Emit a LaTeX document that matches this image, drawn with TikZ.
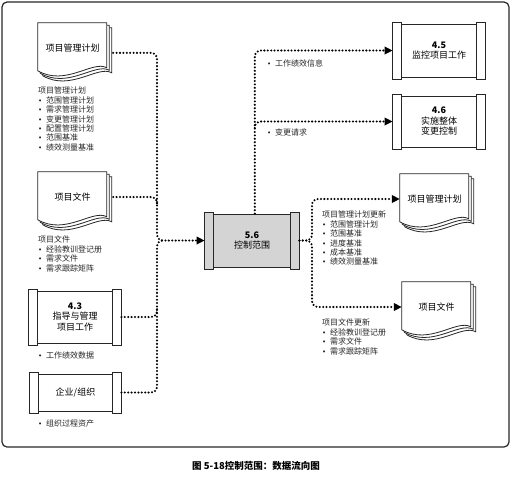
\documentclass[tikz,border=0pt]{standalone}
\usepackage{fontspec}
\setmainfont{Noto Sans CJK SC}
\newfontfamily\djv{DejaVu Sans}
\usetikzlibrary{arrows.meta,calc}
\pgfdeclarelayer{background}
\pgfsetlayers{background,main}
\newcommand\bu{\makebox[8pt][l]{\djv\fontsize{7}{7}\selectfont •}}
\newcommand\docshape[1]{%
  \begin{pgfonlayer}{background}
  \begin{scope}[shift={(#1.north west)}]
    \foreach \o in {5,2.5,0}{%
      \draw[docline,shift={(\o,\o)}] (0,0) -- (69,0) -- (69,45)
        .. controls (55,37) and (28,64) .. (0,48) -- cycle;}
  \end{scope}
  \end{pgfonlayer}}
\newcommand\bars[2]{%
  \draw[barline,fill=#2] ($(#1.north west)+(0,-1.5)$) rectangle ($(#1.south west)+(9,1.5)$);
  \draw[barline,fill=#2] ($(#1.north east)+(-9,-1.5)$) rectangle ($(#1.south east)+(0,1.5)$);}
\tikzset{
  frame/.style={draw=black!85, line width=1.2pt, rounded corners=5pt},
  proc/.style={draw=black!85, line width=0.8pt, fill=white, minimum width=92pt,
    minimum height=52pt, inner sep=0pt, align=center, font=\fontsize{9}{10.5}\selectfont},
  barline/.style={draw=black!85, line width=0.8pt},
  docline/.style={draw=black!85, line width=0.8pt, fill=white},
  docnode/.style={minimum width=69pt, minimum height=50pt, inner sep=0pt,
    font=\fontsize{9}{10}\selectfont},
  flow/.style={line width=2.3pt, dash pattern=on 0pt off 3.4pt, line cap=round, rounded corners=6pt},
  arr/.style={-{Triangle[length=8pt,width=7.5pt]}},
  lst/.style={anchor=north west, inner sep=0pt, align=left, text=black!85,
    font=\fontsize{8}{9.4}\selectfont},
}
\begin{document}
\begin{tikzpicture}[x=1pt,y=-1pt]
\useasboundingbox (0,0) rectangle (513,488);
\draw[frame] (2,2) rectangle (509,447);

% left inputs
\node[docnode] (doc1) at (72.5,48) {项目管理计划};
\docshape{doc1}
\node[docnode] (doc2) at (72.5,197) {项目文件};
\docshape{doc2}
\node[proc] (p43) at (75,317) {\textbf{4.3}\\指导与管理\\项目工作};
\bars{p43}{white}
\node[proc, minimum width=91pt, minimum height=37pt] (org) at (75.5,392.5) {企业/组织};
\bars{org}{white}

% center
\node[proc, fill=black!17, minimum width=94pt, minimum height=53pt] (c56) at (252,240.5) {\textbf{5.6}\\控制范围};
\bars{c56}{black!17}

% right outputs
\node[proc, minimum height=53pt] (p45) at (439,50.5) {\textbf{4.5}\\监控项目工作};
\bars{p45}{white}
\node[proc, minimum height=51pt] (p46) at (439,121.5) {\textbf{4.6}\\实施整体\\变更控制};
\bars{p46}{white}
\node[docnode] (rdoc1) at (434.5,199) {项目管理计划};
\docshape{rdoc1}
\node[docnode] (rdoc2) at (436.5,307) {项目文件};
\docshape{rdoc2}

% lists
\node[lst] (l1) at (38,87) {项目管理计划\\\bu 范围管理计划\\\bu 需求管理计划\\\bu 变更管理计划\\\bu 配置管理计划\\\bu 范围基准\\\bu 绩效测量基准};
\node[lst] (l2) at (38,236) {项目文件\\\bu 经验教训登记册\\\bu 需求文件\\\bu 需求跟踪矩阵};
\node[lst] (l3) at (38,352) {\bu 工作绩效数据};
\node[lst] (l4) at (38,420) {\bu 组织过程资产};
\node[lst] (l5) at (267,59) {\bu 工作绩效信息};
\node[lst] (l6) at (267,129) {\bu 变更请求};
\node[lst] (l7) at (322,211) {项目管理计划更新\\\bu 范围管理计划\\\bu 范围基准\\\bu 进度基准\\\bu 成本基准\\\bu 绩效测量基准};
\node[lst] (l8) at (322,319) {项目文件更新\\\bu 经验教训登记册\\\bu 需求文件\\\bu 需求跟踪矩阵};

% caption
\node[font=\bfseries\fontsize{9.5}{11}\selectfont] (cap) at (256,466) {图 5-18控制范围：数据流向图};

% connectors
\coordinate (jl) at (157,240.5);
\coordinate (jl2) at (157,206);
\coordinate (jl3) at (157,308);
\coordinate (jlr) at (164,240.5);
\coordinate (jt) at (254.8,128);
\coordinate (jr) at (312,240.5);
\draw[flow,arr,shorten <=6pt] (doc1.-8) -| (jl) -- (c56.west);
\draw[flow,shorten <=6pt] (doc2.east) -| (jl2);
\draw[flow] (p43.east) -| (jl3);
\draw[flow] (org.east) -| (jl) -- (jlr);
\draw[flow,arr] (c56.84) |- (p45.west);
\draw[flow,arr] (jt) |- (p46.west);
\draw[flow,arr] (c56.east) -- (jr) |- (rdoc1.west);
\draw[flow,arr] (c56.east) -- (jr) |- (rdoc2.west);
\end{tikzpicture}
\end{document}
